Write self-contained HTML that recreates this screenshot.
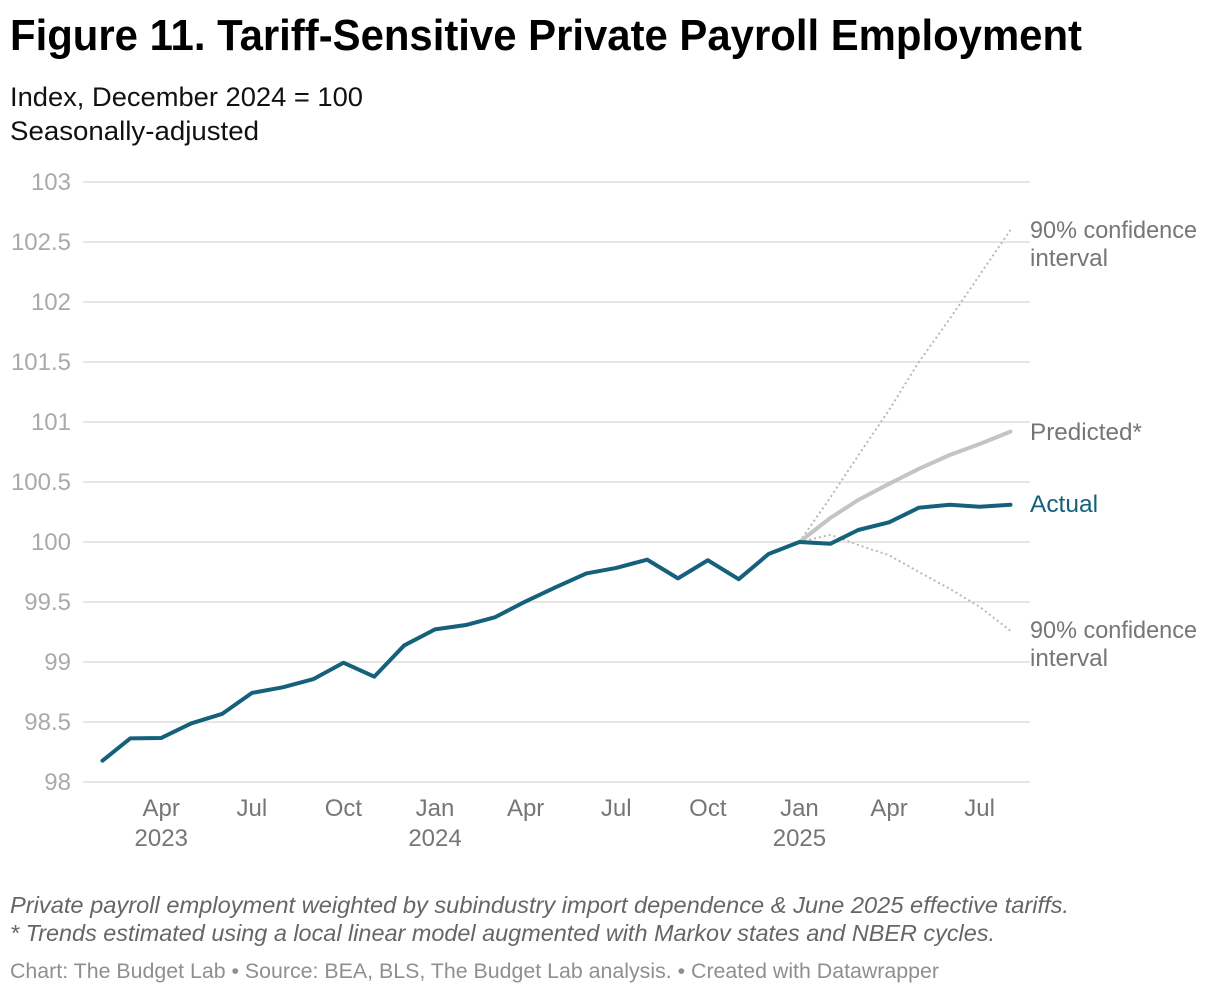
<!DOCTYPE html>
<html lang="en">
<head>
<meta charset="utf-8">
<title>Figure 11. Tariff-Sensitive Private Payroll Employment</title>
<style>
  html, body { margin: 0; padding: 0; background: #fff; }
  svg { display: block; font-family: "Liberation Sans", sans-serif; }
</style>
</head>
<body>
<svg id="chart" xmlns="http://www.w3.org/2000/svg" width="1220" height="994" viewBox="0 0 1220 994">
  <rect x="0" y="0" width="1220" height="994" fill="#ffffff"/>
  <text x="10" y="50" font-size="44" font-weight="700" fill="#000000" textLength="1072" lengthAdjust="spacingAndGlyphs">Figure 11. Tariff-Sensitive Private Payroll Employment</text>
  <text x="10" y="106" font-size="27" fill="#111111" textLength="353" lengthAdjust="spacingAndGlyphs">Index, December 2024 = 100</text>
  <text x="10" y="140" font-size="27" fill="#111111" textLength="249" lengthAdjust="spacingAndGlyphs">Seasonally-adjusted</text>
  <g id="grid"></g>
  <g id="y-axis"></g>
  <g id="x-axis"></g>
  <g id="series"></g>
  <text x="1030" y="238" font-size="24" fill="#767676" textLength="167" lengthAdjust="spacingAndGlyphs">90% confidence</text>
  <text x="1030" y="266" font-size="24" fill="#767676" textLength="78" lengthAdjust="spacingAndGlyphs">interval</text>
  <text x="1030" y="440" font-size="24" fill="#767676" textLength="112" lengthAdjust="spacingAndGlyphs">Predicted*</text>
  <text x="1030" y="512" font-size="24" fill="#15607a" textLength="68" lengthAdjust="spacingAndGlyphs">Actual</text>
  <text x="1030" y="638" font-size="24" fill="#767676" textLength="167" lengthAdjust="spacingAndGlyphs">90% confidence</text>
  <text x="1030" y="666" font-size="24" fill="#767676" textLength="78" lengthAdjust="spacingAndGlyphs">interval</text>
  <text x="10" y="913" font-size="23.5" font-style="italic" fill="#666666" textLength="1059" lengthAdjust="spacingAndGlyphs">Private payroll employment weighted by subindustry import dependence &amp; June 2025 effective tariffs.</text>
  <text x="10" y="941" font-size="23.5" font-style="italic" fill="#666666" textLength="985" lengthAdjust="spacingAndGlyphs">* Trends estimated using a local linear model augmented with Markov states and NBER cycles.</text>
  <text x="10" y="978" font-size="21.5" fill="#8f8f8f" textLength="929" lengthAdjust="spacingAndGlyphs">Chart: The Budget Lab • Source: BEA, BLS, The Budget Lab analysis. • Created with Datawrapper</text>
</svg>
<script>
// Chart data
var actualMonths = ["2023-02","2023-03","2023-04","2023-05","2023-06","2023-07","2023-08","2023-09","2023-10","2023-11","2023-12","2024-01","2024-02","2024-03","2024-04","2024-05","2024-06","2024-07","2024-08","2024-09","2024-10","2024-11","2024-12","2025-01","2025-02","2025-03","2025-04","2025-05","2025-06","2025-07","2025-08"];
var actualValues = [98.178,98.364,98.367,98.488,98.567,98.742,98.789,98.858,98.994,98.878,99.138,99.272,99.308,99.372,99.505,99.622,99.738,99.784,99.853,99.697,99.848,99.69,99.9,100,99.985,100.1,100.164,100.286,100.31,100.294,100.31];
var forecastMonths = ["2025-01","2025-02","2025-03","2025-04","2025-05","2025-06","2025-07","2025-08"];
var predictedValues = [100,100.2,100.35,100.485,100.61,100.725,100.817,100.92];
var upperValues = [100,100.37,100.72,101.1,101.5,101.86,102.225,102.6];
var lowerValues = [100,100.06,99.975,99.89,99.75,99.61,99.46,99.26];
var yTicks = [98,98.5,99,99.5,100,100.5,101,101.5,102,102.5,103];
var xTickMonths = ["2023-04","2023-07","2023-10","2024-01","2024-04","2024-07","2024-10","2025-01","2025-04","2025-07"];
var xTickLabels = ["Apr","Jul","Oct","Jan","Apr","Jul","Oct","Jan","Apr","Jul"];
var xYearMonths = ["2023-04","2024-01","2025-01"];
var xYearLabels = ["2023","2024","2025"];

// Axis functions: a true time scale, so months have calendar widths
function monthTime(m) {
  var parts = m.split("-");
  return Date.UTC(Number(parts[0]), Number(parts[1]) - 1, 1);
}
var firstTime = monthTime("2023-02");
var lastTime = monthTime("2025-08");
function xScale(m) {
  return 102.5 + (monthTime(m) - firstTime) * (1010.5 - 102.5) / (lastTime - firstTime);
}
function yScale(v) {
  return 782 - (v - 98) * 120;
}

var NS = "http://www.w3.org/2000/svg";
function make(tag, parent, attrs, content) {
  var el = document.createElementNS(NS, tag);
  for (var k in attrs) { el.setAttribute(k, attrs[k]); }
  if (content !== undefined) { el.textContent = content; }
  parent.appendChild(el);
  return el;
}
function pathFrom(months, values) {
  return values.map(function (v, i) {
    return (i ? "L" : "M") + xScale(months[i]).toFixed(2) + " " + yScale(v).toFixed(2);
  }).join(" ");
}

var gridG = document.getElementById("grid");
var yG = document.getElementById("y-axis");
var xG = document.getElementById("x-axis");
var seriesG = document.getElementById("series");

yTicks.forEach(function (t) {
  var line = make("line", gridG, { x1: 83, x2: 1030, y1: yScale(t), y2: yScale(t), stroke: "#e6e6e6", "stroke-width": 2 });
  
  
  var label = make("text", yG, { x: 71, y: yScale(t) + 8, "text-anchor": "end", "font-size": 24, fill: "#aaaaaa" }, String(t));
  
  
});

xTickMonths.forEach(function (m, i) {
  var label = make("text", xG, { x: xScale(m), y: 816, "text-anchor": "middle", "font-size": 24, fill: "#767676" }, xTickLabels[i]);
  
  
});
xYearMonths.forEach(function (m, i) {
  var label = make("text", xG, { x: xScale(m), y: 846, "text-anchor": "middle", "font-size": 24, fill: "#767676" }, xYearLabels[i]);
  
  
});

var upperLine = make("path", seriesG, { d: pathFrom(forecastMonths, upperValues), fill: "none", stroke: "#b8b8b8", "stroke-width": 2, "stroke-dasharray": "2 3" });


var lowerLine = make("path", seriesG, { d: pathFrom(forecastMonths, lowerValues), fill: "none", stroke: "#b8b8b8", "stroke-width": 2, "stroke-dasharray": "2 3" });


var predictedLine = make("path", seriesG, { d: pathFrom(forecastMonths, predictedValues), fill: "none", stroke: "#c4c4c4", "stroke-width": 4, "stroke-linecap": "round", "stroke-linejoin": "round" });


var actualLine = make("path", seriesG, { d: pathFrom(actualMonths, actualValues), fill: "none", stroke: "#15607a", "stroke-width": 4, "stroke-linecap": "round", "stroke-linejoin": "round" });


</script>
</body>
</html>
